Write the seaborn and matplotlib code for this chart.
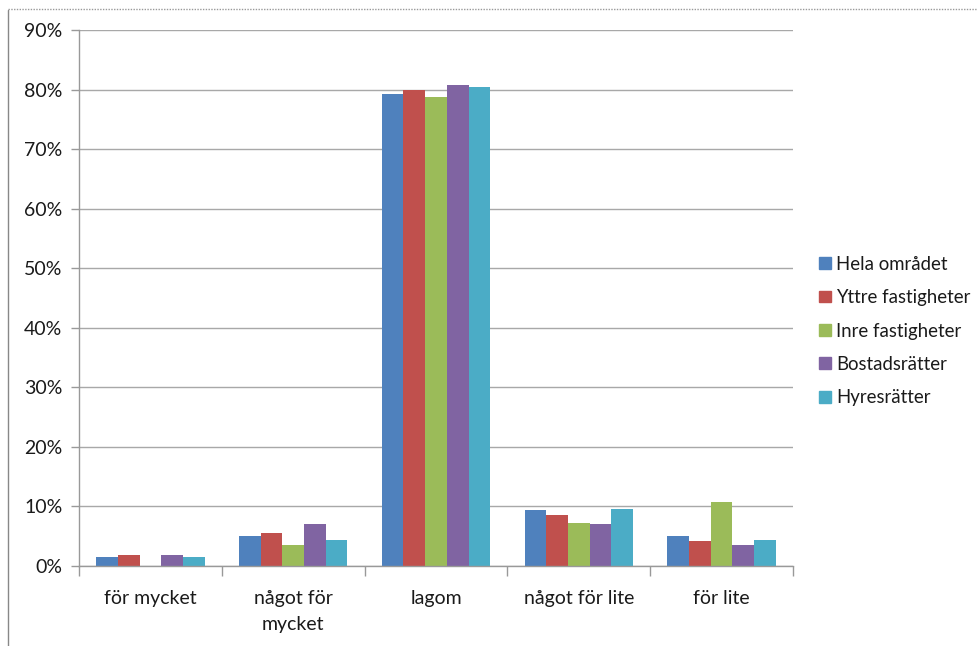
import numpy as np
import pandas as pd
import matplotlib
matplotlib.use("Agg")
import matplotlib.pyplot as plt
import seaborn as sns
from matplotlib.ticker import FuncFormatter, MultipleLocator
from matplotlib.lines import Line2D

categories = ["för mycket", "något för\nmycket", "lagom", "något för lite", "för lite"]
series = ["Hela området", "Yttre fastigheter", "Inre fastigheter", "Bostadsrätter", "Hyresrätter"]
hela = [1.55, 5.0, 79.3, 9.45, 5.0]
yttre = [1.9, 5.6, 80.0, 8.6, 4.25]
inre = [0.0, 3.6, 78.7, 7.2, 10.7]
bostad = [1.8, 7.1, 80.7, 7.1, 3.5]
hyres = [1.45, 4.4, 80.4, 9.55, 4.4]
colors = ["#4F81BD", "#C0504D", "#9BBB59", "#8064A2", "#4BACC6"]

values = [hela, yttre, inre, bostad, hyres]
rows = []
for s, vals in zip(series, values):
    for c, v in zip(categories, vals):
        rows.append({"kategori": c, "serie": s, "andel": v})
df = pd.DataFrame(rows)

sns.set_theme(style="white")
plt.rcParams["font.family"] = ["Lato", "DejaVu Sans"]

fig = plt.figure(figsize=(9.77, 6.46), dpi=100)
ax = fig.add_axes([79/977, 1 - 566/646, (793-79)/977, (566-30)/646])

sns.barplot(data=df, x="kategori", y="andel", hue="serie", order=categories,
            hue_order=series, palette=colors, width=0.76, saturation=1,
            edgecolor="none", linewidth=0, ax=ax, legend=True)

ax.set_ylim(0, 90)
ax.set_xlim(-0.5, 4.5)
ax.yaxis.set_major_locator(MultipleLocator(10))
ax.yaxis.set_major_formatter(FuncFormatter(lambda v, p: f"{int(round(v))}%"))
ax.grid(axis="y", color="#A8A8A8", linewidth=1.0)
ax.set_axisbelow(True)
ax.set_xlabel("")
ax.set_ylabel("")
for side in ["top", "right"]:
    ax.spines[side].set_visible(False)
for side in ["left", "bottom"]:
    ax.spines[side].set_color("#999999")
    ax.spines[side].set_linewidth(1.0)

ax.tick_params(axis="y", which="major", length=6, width=1, color="#999999",
               labelsize=14, labelcolor="#1a1a1a", pad=6, left=True)
ax.tick_params(axis="x", which="major", length=0, labelsize=14,
               labelcolor="#1a1a1a", pad=17)
ax.set_xticks(range(len(categories)))
ax.set_xticklabels(categories, linespacing=1.65)
ax.set_xticks(np.arange(-0.5, 5.0, 1.0), minor=True)
ax.tick_params(axis="x", which="minor", length=7, width=1, color="#999999", bottom=True)

handles = [plt.Rectangle((0, 0), 1, 1, color=c) for c in colors]
ax.legend(handles, series, loc="center left", bbox_to_anchor=(812/977, 1 - 331/646),
          bbox_transform=fig.transFigure, frameon=False, fontsize=13.4,
          handlelength=0.6, handleheight=0.6, handletextpad=0.3,
          labelspacing=0.88, borderaxespad=0, labelcolor="#1a1a1a")

# outer chart border
fig.add_artist(Line2D([8/977, 8/977], [0, 1 - 10/646], transform=fig.transFigure,
                      color="#888888", linewidth=1.0))
fig.add_artist(Line2D([8/977, 1], [1 - 9/646, 1 - 9/646], transform=fig.transFigure,
                      color="#999999", linewidth=1.0, linestyle=(0, (1, 1))))

fig.savefig("out.png", dpi=100)
